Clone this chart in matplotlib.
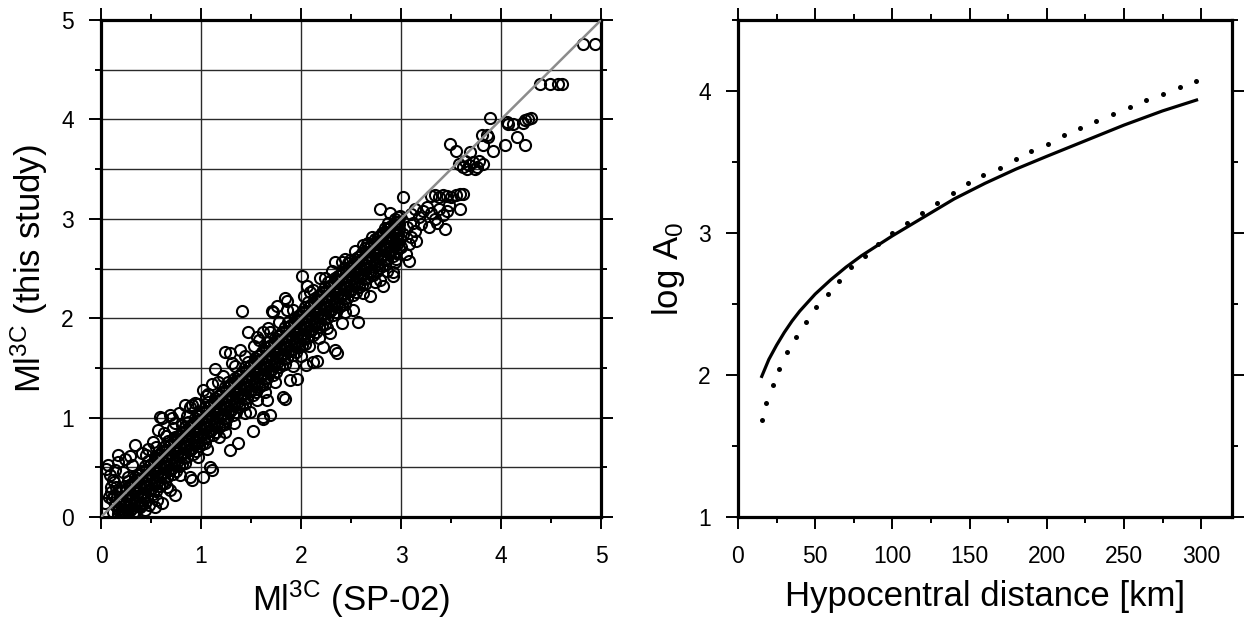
import matplotlib
matplotlib.use('Agg')
import matplotlib.pyplot as plt
from matplotlib.ticker import MultipleLocator

plt.rcParams['font.family'] = ['Liberation Sans', 'DejaVu Sans']
plt.rcParams['mathtext.fontset'] = 'custom'
plt.rcParams['mathtext.rm'] = 'Liberation Sans'
plt.rcParams['mathtext.it'] = 'Liberation Sans:italic'
plt.rcParams['mathtext.bf'] = 'Liberation Sans:bold'

# ---------------- left panel: Ml(3C) SP-02 vs this study ----------------
# dense core of the cloud (bin by bin)
core_x = [
    0.12, 0.14, 0.16, 0.18, 0.10, 0.15, 0.19, 0.13, 0.17, 0.11,
    0.21, 0.23, 0.25, 0.27, 0.29, 0.22, 0.24, 0.26, 0.28, 0.20, 0.21, 0.23, 0.25, 0.27, 0.29, 0.22, 0.24, 0.26, 0.28, 0.25,
    0.30, 0.32, 0.34, 0.36, 0.38, 0.31, 0.33, 0.35, 0.37, 0.39, 0.32, 0.34, 0.36, 0.38, 0.30, 0.33, 0.35, 0.37, 0.39, 0.36,
    0.41, 0.43, 0.45, 0.47, 0.49, 0.42, 0.44, 0.46, 0.48, 0.40, 0.41, 0.43, 0.45, 0.47, 0.49, 0.42, 0.44, 0.46, 0.48, 0.45,
    0.50, 0.52, 0.54, 0.56, 0.58, 0.51, 0.53, 0.55, 0.57, 0.59, 0.52, 0.54, 0.56, 0.58, 0.50, 0.53, 0.55, 0.57, 0.59, 0.56,
    0.61, 0.63, 0.65, 0.67, 0.69, 0.62, 0.64, 0.66, 0.68, 0.60, 0.61, 0.63, 0.65, 0.67, 0.69, 0.62, 0.64, 0.66, 0.68, 0.65,
    0.70, 0.72, 0.74, 0.76, 0.78, 0.71, 0.73, 0.75, 0.77, 0.79, 0.72, 0.74, 0.76, 0.78, 0.70, 0.73, 0.75, 0.77, 0.79, 0.76,
    0.81, 0.83, 0.85, 0.87, 0.89, 0.82, 0.84, 0.86, 0.88, 0.80, 0.81, 0.83, 0.85, 0.87, 0.89, 0.82, 0.84, 0.86, 0.88, 0.85,
    0.90, 0.92, 0.94, 0.96, 0.98, 0.91, 0.93, 0.95, 0.97, 0.99, 0.92, 0.94, 0.96, 0.98, 0.90, 0.93, 0.95, 0.97, 0.99, 0.96,
    1.01, 1.03, 1.05, 1.07, 1.09, 1.02, 1.04, 1.06, 1.08, 1.00, 1.01, 1.03, 1.05, 1.07, 1.09, 1.02, 1.04, 1.06, 1.08, 1.05,
    1.10, 1.12, 1.14, 1.16, 1.18, 1.11, 1.13, 1.15, 1.17, 1.19, 1.12, 1.14, 1.16, 1.18, 1.10, 1.13, 1.15, 1.17, 1.19, 1.16,
    1.21, 1.23, 1.25, 1.27, 1.29, 1.22, 1.24, 1.26, 1.28, 1.20, 1.21, 1.23, 1.25, 1.27, 1.29, 1.22, 1.24, 1.26, 1.28, 1.25,
    1.30, 1.32, 1.34, 1.36, 1.38, 1.31, 1.33, 1.35, 1.37, 1.39, 1.32, 1.34, 1.36, 1.38, 1.30, 1.33, 1.35, 1.37, 1.39, 1.36,
    1.41, 1.43, 1.45, 1.47, 1.49, 1.42, 1.44, 1.46, 1.48, 1.40, 1.41, 1.43, 1.45, 1.47, 1.49, 1.42, 1.44, 1.46, 1.48, 1.45,
    1.50, 1.52, 1.54, 1.56, 1.58, 1.51, 1.53, 1.55, 1.57, 1.59, 1.52, 1.54, 1.56, 1.58, 1.50, 1.53, 1.55, 1.57, 1.59, 1.56,
    1.61, 1.63, 1.65, 1.67, 1.69, 1.62, 1.64, 1.66, 1.68, 1.60, 1.61, 1.63, 1.65, 1.67, 1.69, 1.62, 1.64, 1.66, 1.68, 1.65,
    1.70, 1.72, 1.74, 1.76, 1.78, 1.71, 1.73, 1.75, 1.77, 1.79, 1.72, 1.74, 1.76, 1.78, 1.70, 1.73, 1.75, 1.77, 1.79, 1.76,
    1.81, 1.83, 1.85, 1.87, 1.89, 1.82, 1.84, 1.86, 1.88, 1.80, 1.81, 1.83, 1.85, 1.87, 1.89, 1.82, 1.84, 1.86, 1.88, 1.85,
    1.90, 1.92, 1.94, 1.96, 1.98, 1.91, 1.93, 1.95, 1.97, 1.99, 1.92, 1.94, 1.96, 1.98, 1.90, 1.93, 1.95, 1.97, 1.99, 1.96,
    2.01, 2.03, 2.05, 2.07, 2.09, 2.02, 2.04, 2.06, 2.08, 2.00, 2.01, 2.03, 2.05, 2.07, 2.09, 2.02, 2.04, 2.06, 2.08, 2.05,
    2.10, 2.12, 2.14, 2.16, 2.18, 2.11, 2.13, 2.15, 2.17, 2.19, 2.12, 2.14, 2.16, 2.18, 2.10, 2.13, 2.15, 2.17, 2.19, 2.16,
    2.21, 2.23, 2.25, 2.27, 2.29, 2.22, 2.24, 2.26, 2.28, 2.20, 2.21, 2.23, 2.25, 2.27, 2.29, 2.22, 2.24, 2.26, 2.28, 2.25,
    2.30, 2.32, 2.34, 2.36, 2.38, 2.31, 2.33, 2.35, 2.37, 2.39, 2.32, 2.34, 2.36, 2.38, 2.30, 2.33, 2.35, 2.37, 2.39, 2.36,
    2.41, 2.43, 2.45, 2.47, 2.49, 2.42, 2.44, 2.46, 2.48, 2.40, 2.41, 2.43, 2.45, 2.47,
    2.50, 2.52, 2.54, 2.56, 2.58, 2.51, 2.53, 2.55, 2.57, 2.59, 2.52, 2.54, 2.56, 2.58,
    2.61, 2.63, 2.65, 2.67, 2.69, 2.62, 2.64, 2.66, 2.68, 2.60, 2.61, 2.63, 2.65, 2.67,
    2.70, 2.72, 2.74, 2.76, 2.78, 2.71, 2.73, 2.75, 2.77, 2.79, 2.72, 2.74, 2.76, 2.78,
    2.81, 2.83, 2.85, 2.87, 2.89, 2.82, 2.84, 2.86, 2.88, 2.80, 2.81, 2.83, 2.85, 2.87,
    2.90, 2.92, 2.94, 2.96, 2.98, 2.91, 2.93, 2.95, 2.97, 2.99, 2.92, 2.94, 2.96, 2.98,
]
core_y = [
    0.05, 0.12, 0.20, 0.08, 0.25, 0.30, 0.15, 0.35, 0.03, 0.18,
    0.04, 0.11, 0.27, 0.07, 0.24, 0.04, 0.31, 0.06, 0.18, 0.18, 0.26, 0.03, 0.10, 0.36, 0.07, 0.14, 0.05, 0.22, 0.31, 0.14,
    0.08, 0.26, 0.40, 0.15, 0.30, 0.19, 0.35, 0.06, 0.24, 0.43, 0.04, 0.17, 0.37, 0.11, 0.33, 0.12, 0.28, 0.42, 0.20, 0.21,
    0.13, 0.31, 0.47, 0.27, 0.44, 0.24, 0.51, 0.20, 0.38, 0.38, 0.46, 0.19, 0.30, 0.56, 0.27, 0.34, 0.14, 0.42, 0.51, 0.34,
    0.28, 0.46, 0.60, 0.35, 0.50, 0.39, 0.55, 0.26, 0.44, 0.63, 0.23, 0.37, 0.57, 0.31, 0.53, 0.32, 0.48, 0.62, 0.40, 0.41,
    0.33, 0.51, 0.67, 0.47, 0.64, 0.44, 0.71, 0.40, 0.58, 0.58, 0.66, 0.39, 0.50, 0.76, 0.47, 0.54, 0.34, 0.62, 0.71, 0.54,
    0.48, 0.66, 0.80, 0.55, 0.70, 0.59, 0.75, 0.46, 0.64, 0.83, 0.43, 0.57, 0.77, 0.51, 0.73, 0.52, 0.68, 0.82, 0.60, 0.61,
    0.53, 0.71, 0.87, 0.67, 0.84, 0.64, 0.91, 0.60, 0.78, 0.78, 0.86, 0.59, 0.70, 0.96, 0.67, 0.74, 0.54, 0.82, 0.91, 0.74,
    0.68, 0.86, 1.00, 0.75, 0.90, 0.79, 0.95, 0.66, 0.84, 1.03, 0.63, 0.77, 0.97, 0.71, 0.93, 0.72, 0.88, 1.02, 0.80, 0.81,
    0.73, 0.91, 1.07, 0.87, 1.04, 0.84, 1.11, 0.80, 0.98, 0.98, 1.06, 0.79, 0.90, 1.16, 0.87, 0.94, 0.74, 1.02, 1.11, 0.94,
    0.88, 1.06, 1.20, 0.95, 1.10, 0.99, 1.15, 0.86, 1.04, 1.23, 0.83, 0.97, 1.17, 0.91, 1.13, 0.92, 1.08, 1.22, 1.00, 1.01,
    0.93, 1.11, 1.27, 1.07, 1.24, 1.04, 1.31, 1.00, 1.18, 1.18, 1.26, 0.99, 1.10, 1.36, 1.07, 1.14, 0.94, 1.22, 1.31, 1.14,
    1.08, 1.26, 1.40, 1.15, 1.30, 1.19, 1.35, 1.06, 1.24, 1.43, 1.03, 1.17, 1.37, 1.11, 1.33, 1.12, 1.28, 1.42, 1.20, 1.21,
    1.13, 1.31, 1.47, 1.27, 1.44, 1.24, 1.51, 1.20, 1.38, 1.38, 1.46, 1.19, 1.30, 1.56, 1.27, 1.34, 1.14, 1.42, 1.51, 1.34,
    1.28, 1.46, 1.60, 1.35, 1.50, 1.39, 1.55, 1.26, 1.44, 1.63, 1.23, 1.37, 1.57, 1.31, 1.53, 1.32, 1.48, 1.62, 1.40, 1.41,
    1.33, 1.51, 1.67, 1.47, 1.64, 1.44, 1.71, 1.40, 1.58, 1.58, 1.66, 1.39, 1.50, 1.76, 1.47, 1.54, 1.34, 1.62, 1.71, 1.54,
    1.48, 1.66, 1.80, 1.55, 1.70, 1.59, 1.75, 1.46, 1.64, 1.83, 1.43, 1.57, 1.77, 1.51, 1.73, 1.52, 1.68, 1.82, 1.60, 1.61,
    1.53, 1.71, 1.87, 1.67, 1.84, 1.64, 1.91, 1.60, 1.78, 1.78, 1.86, 1.59, 1.70, 1.96, 1.67, 1.74, 1.54, 1.82, 1.91, 1.74,
    1.68, 1.86, 2.00, 1.75, 1.90, 1.79, 1.95, 1.66, 1.84, 2.03, 1.63, 1.77, 1.97, 1.71, 1.93, 1.72, 1.88, 2.02, 1.80, 1.81,
    1.73, 1.91, 2.07, 1.87, 2.04, 1.84, 2.11, 1.80, 1.98, 1.98, 2.06, 1.79, 1.90, 2.16, 1.87, 1.94, 1.74, 2.02, 2.11, 1.94,
    1.88, 2.06, 2.20, 1.95, 2.10, 1.99, 2.15, 1.86, 2.04, 2.23, 1.83, 1.97, 2.17, 1.91, 2.13, 1.92, 2.08, 2.22, 2.00, 2.01,
    1.93, 2.11, 2.27, 2.07, 2.24, 2.04, 2.31, 2.00, 2.18, 2.18, 2.26, 1.99, 2.10, 2.36, 2.07, 2.14, 1.94, 2.22, 2.31, 2.14,
    2.08, 2.26, 2.40, 2.15, 2.30, 2.19, 2.35, 2.06, 2.24, 2.43, 2.03, 2.17, 2.37, 2.11, 2.33, 2.12, 2.28, 2.42, 2.20, 2.21,
    2.13, 2.31, 2.47, 2.27, 2.44, 2.24, 2.51, 2.20, 2.38, 2.38, 2.46, 2.19, 2.30, 2.56,
    2.28, 2.46, 2.60, 2.35, 2.50, 2.39, 2.55, 2.26, 2.44, 2.63, 2.23, 2.37, 2.57, 2.31,
    2.33, 2.51, 2.67, 2.47, 2.64, 2.44, 2.71, 2.40, 2.58, 2.58, 2.66, 2.39, 2.50, 2.76,
    2.48, 2.66, 2.80, 2.55, 2.70, 2.59, 2.75, 2.46, 2.64, 2.83, 2.43, 2.57, 2.77, 2.51,
    2.53, 2.71, 2.87, 2.67, 2.84, 2.64, 2.91, 2.60, 2.78, 2.78, 2.86, 2.59, 2.70, 2.96,
    2.68, 2.86, 3.00, 2.75, 2.90, 2.79, 2.95, 2.66, 2.84, 3.03, 2.63, 2.77, 2.97, 2.71,
]

# more circles in the upper part of the dense band (Ml 2.4 - 3.0)
core2_x = [
    2.49, 2.42, 2.44, 2.46, 2.48, 2.45,
    2.50, 2.53, 2.55, 2.57, 2.59, 2.56,
    2.69, 2.62, 2.64, 2.66, 2.68, 2.65,
    2.70, 2.73, 2.75, 2.77, 2.79, 2.76,
    2.89, 2.82, 2.84, 2.86, 2.88, 2.85,
    2.90, 2.93, 2.95, 2.97, 2.99, 2.96,
]
core2_y = [
    2.27, 2.34, 2.14, 2.42, 2.51, 2.34,
    2.53, 2.32, 2.48, 2.62, 2.40, 2.41,
    2.47, 2.54, 2.34, 2.62, 2.71, 2.54,
    2.73, 2.52, 2.68, 2.82, 2.60, 2.61,
    2.67, 2.74, 2.54, 2.82, 2.91, 2.74,
    2.93, 2.72, 2.88, 3.02, 2.80, 2.81,
]

# circles along the upper and lower edges of the band
edge_x = [
    0.45, 0.55, 0.63, 0.72, 0.86, 0.97, 1.05, 1.17, 1.22, 1.34, 1.44, 1.53, 1.58, 1.69, 1.78, 1.92, 2.03, 2.09,
    2.24, 2.31, 2.44, 2.54, 2.62, 2.71,
    0.48, 0.66, 0.79, 0.97, 1.06, 1.18, 1.24, 1.33, 1.44, 1.56, 1.64, 1.74, 1.92, 2.00, 2.08, 2.18, 2.26, 2.44,
    2.62, 2.74, 2.86,
]
edge_y = [
    0.62, 0.70, 0.85, 0.90, 1.02, 1.14, 1.22, 1.36, 1.42, 1.52, 1.62, 1.72, 1.78, 1.86, 1.96, 2.08, 2.22, 2.26,
    2.40, 2.48, 2.60, 2.68, 2.74, 2.82,
    0.12, 0.30, 0.42, 0.60, 0.68, 0.80, 0.86, 0.95, 1.05, 1.18, 1.26, 1.36, 1.52, 1.62, 1.72, 1.80, 1.90, 2.06,
    2.25, 2.36, 2.48,
]

# individually visible circles around the band
fringe_x = [
    0.07, 0.09, 0.12, 0.17, 0.17, 0.22, 0.31, 0.34, 0.41, 0.27, 0.19, 0.04, 0.05, 0.14, 0.24, 0.10, 0.13, 0.08,
    0.17, 0.24, 0.34, 0.44, 0.54, 0.61, 0.74, 0.69, 0.56, 0.39, 0.91, 1.02, 1.11, 0.89, 1.09, 1.29, 1.37, 1.52,
    1.62, 1.69, 1.82, 1.89, 2.12, 2.22, 2.29, 2.34, 2.36, 1.84, 1.66, 1.96, 1.62, 1.49, 2.41, 2.52, 2.57, 2.69,
    2.79, 2.92, 2.94, 2.96, 2.05, 2.16, 2.92, 3.08, 2.82,
    0.57, 0.61, 0.71, 0.74, 0.81, 0.84, 0.91, 0.94, 0.65, 0.52, 0.47, 0.78, 1.41, 1.71, 1.76, 1.86, 1.47, 1.56,
    1.62, 1.24, 1.29, 1.39, 1.14, 1.02, 1.07, 0.89, 0.59, 0.69, 0.29, 1.31, 1.11, 1.67, 1.86, 2.34, 2.41, 2.49,
    2.66, 2.74, 2.01, 2.19, 1.84, 1.72, 2.06, 2.12,
]
fringe_y = [
    0.52, 0.42, 0.37, 0.62, 0.55, 0.45, 0.52, 0.72, 0.64, 0.40, 0.27, 0.14, 0.48, 0.47, 0.58, 0.30, 0.22, 0.20,
    0.07, 0.05, 0.05, 0.07, 0.10, 0.14, 0.22, 0.27, 0.17, 0.10, 0.37, 0.40, 0.47, 0.40, 0.50, 0.67, 0.74, 0.87,
    0.99, 1.03, 1.21, 1.38, 1.56, 1.71, 1.85, 1.68, 1.65, 1.19, 1.18, 1.39, 1.01, 1.06, 1.95, 2.08, 1.96, 2.22,
    2.38, 2.47, 2.57, 2.79, 1.53, 1.57, 2.42, 2.58, 2.32,
    0.88, 1.00, 1.00, 0.95, 0.93, 1.13, 1.13, 1.15, 0.82, 0.75, 0.68, 1.05, 2.07, 2.07, 2.12, 2.08, 1.86, 1.81,
    1.86, 1.66, 1.65, 1.68, 1.49, 1.28, 1.24, 1.11, 1.01, 1.03, 0.61, 1.55, 1.34, 1.90, 2.17, 2.57, 2.57, 2.59,
    2.75, 2.69, 2.42, 2.40, 2.20, 2.06, 2.32, 2.28,
]

# sparse upper part of the cloud (Ml > 2.8)
upper_x = [
    2.79, 2.89, 3.02, 3.30, 3.34, 3.38, 3.42, 3.46, 3.50, 3.55, 3.59, 3.59, 3.62,
    3.10, 3.14, 3.18, 3.22, 3.26, 3.30, 3.34, 3.38, 3.42, 3.46, 3.48, 3.20, 3.28, 3.36, 3.44,
    2.82, 2.86, 2.90, 2.94, 2.98, 3.02, 3.06, 3.10, 3.14, 3.00, 3.05, 2.95, 3.08, 3.15, 3.12,
    3.49, 3.55, 3.69, 3.58, 3.62, 3.64, 3.68, 3.72, 3.76, 3.78, 3.82, 3.66, 3.74,
    3.81, 3.87, 3.82, 3.86, 3.92, 4.04, 4.16, 4.24, 3.89, 4.06, 4.07, 4.12, 4.24, 4.27, 4.22, 4.30,
    4.39, 4.49, 4.57, 4.61, 4.82, 4.94,
]
upper_y = [
    3.10, 3.06, 3.22, 3.23, 3.24, 3.22, 3.24, 3.23, 3.22, 3.24, 3.25, 3.10, 3.25,
    3.05, 3.10, 3.02, 3.08, 3.12, 3.06, 3.00, 3.10, 3.04, 3.08, 3.14, 2.95, 2.92, 2.96, 2.90,
    2.84, 2.90, 2.80, 2.88, 2.95, 2.85, 2.92, 2.82, 2.88, 2.72, 2.65, 2.60, 2.75, 2.78, 2.96,
    3.75, 3.68, 3.67, 3.55, 3.52, 3.58, 3.54, 3.57, 3.52, 3.58, 3.55, 3.50, 3.50,
    3.84, 3.82, 3.74, 3.84, 3.68, 3.74, 3.82, 3.74, 4.01, 3.97, 3.95, 3.95, 3.99, 4.00, 3.96, 4.01,
    4.36, 4.36, 4.36, 4.36, 4.76, 4.76,
]

one_to_one = [0, 5]

# ---------------- right panel: log A0 vs hypocentral distance ----------------
dist_solid = [15, 20, 25, 30, 35, 40, 50, 60, 70, 80, 90, 100, 120, 140, 160, 180, 200, 225, 250, 275, 298]
logA0_solid = [1.98, 2.11, 2.21, 2.30, 2.38, 2.45, 2.57, 2.67, 2.76, 2.84, 2.91, 2.98, 3.11, 3.24, 3.35, 3.45,
               3.54, 3.65, 3.76, 3.86, 3.94]

dist_dotted = [15.3, 18.3, 22.5, 26.8, 31.6, 37.3, 43.8, 50.6, 58.0, 65.4, 73.4, 82.0, 91.0, 100.0, 109.4,
               119.5, 129.0, 139.0, 149.0, 159.0, 169.5, 180.0, 190.0, 201.0, 211.0, 221.6, 232.0, 243.0,
               253.7, 264.0, 275.0, 286.0, 296.8]
logA0_dotted = [1.68, 1.80, 1.93, 2.04, 2.16, 2.27, 2.37, 2.48, 2.57, 2.66, 2.76, 2.84, 2.92, 3.00, 3.07,
                3.14, 3.21, 3.28, 3.35, 3.41, 3.46, 3.52, 3.58, 3.63, 3.69, 3.74, 3.79, 3.84,
                3.89, 3.94, 3.98, 4.03, 4.07]

# ---------------- drawing ----------------
fig = plt.figure(figsize=(12.47, 6.20), dpi=100)

TICK_FS = 16.5
LABEL_FS = 25


def style_axes(ax):
    for sp in ax.spines.values():
        sp.set_linewidth(2.3)
        sp.set_color('black')
    ax.tick_params(which='both', direction='out', top=True, right=True,
                   labeltop=False, labelright=False, width=1.4, colors='black')
    ax.tick_params(which='major', length=8.5, labelsize=TICK_FS)
    ax.tick_params(which='minor', length=4.5)
    ax.tick_params(axis='x', which='major', pad=12)
    ax.tick_params(axis='y', which='major', pad=11)


# left panel
ax1 = fig.add_axes([0.0810, 0.1661, 0.4010, 0.8016])
ax1.set_xlim(0, 5)
ax1.set_ylim(0, 5)
ax1.xaxis.set_major_locator(MultipleLocator(1))
ax1.xaxis.set_minor_locator(MultipleLocator(0.5))
ax1.yaxis.set_major_locator(MultipleLocator(1))
ax1.yaxis.set_minor_locator(MultipleLocator(0.5))
ax1.xaxis.grid(True, which='major', color='#2a2a2a', lw=1.0)
ax1.yaxis.grid(True, which='both', color='#2a2a2a', lw=1.0)
ax1.set_axisbelow(True)
style_axes(ax1)

circle_kw = dict(ls='none', marker='o', ms=8.0, mfc='none', mec='black', mew=1.5, zorder=3)
for xs, ys in ((core_x, core_y), (core2_x, core2_y), (edge_x, edge_y),
               (fringe_x, fringe_y), (upper_x, upper_y)):
    n = min(len(xs), len(ys))
    ax1.plot(xs[:n], ys[:n], **circle_kw)
ax1.plot(one_to_one, one_to_one, color='#8c8c8c', lw=1.8, zorder=4)

ax1.set_xlabel(r'Ml$^{\mathrm{3C}}$ (SP-02)', fontsize=LABEL_FS, labelpad=7)
ax1.set_ylabel(r'Ml$^{\mathrm{3C}}$ (this study)', fontsize=LABEL_FS, labelpad=8)

# right panel
ax2 = fig.add_axes([0.5918, 0.1661, 0.3962, 0.8016])
ax2.set_xlim(0, 320)
ax2.set_ylim(1, 4.5)
ax2.xaxis.set_major_locator(MultipleLocator(50))
ax2.xaxis.set_minor_locator(MultipleLocator(25))
ax2.yaxis.set_major_locator(MultipleLocator(1))
ax2.yaxis.set_minor_locator(MultipleLocator(0.5))
style_axes(ax2)

ax2.plot(dist_solid, logA0_solid, color='black', lw=2.3, solid_capstyle='butt')
ax2.plot(dist_dotted, logA0_dotted, ls='none', marker='o', ms=3.6, mfc='black', mec='black', mew=0)

ax2.set_xlabel('Hypocentral distance [km]', fontsize=LABEL_FS, labelpad=8)
ax2.set_ylabel(r'log A$_{\mathrm{0}}$', fontsize=LABEL_FS, labelpad=8)

fig.savefig('out.png', dpi=100)
